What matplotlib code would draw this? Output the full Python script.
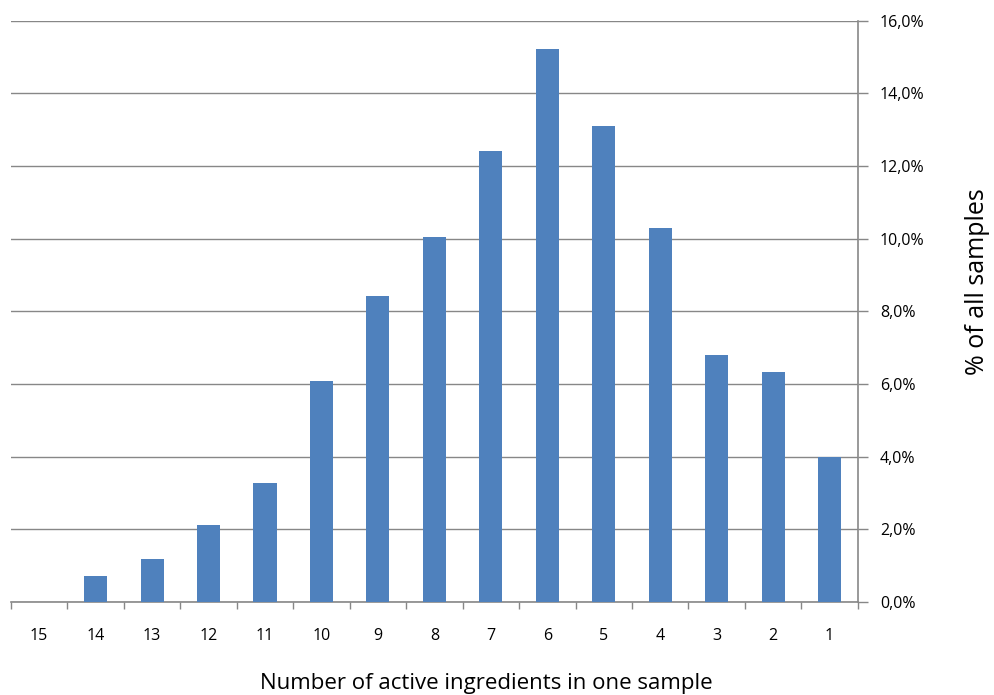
import numpy as np
import matplotlib.pyplot as plt
from matplotlib.ticker import FuncFormatter, MultipleLocator

# Share of samples by number of active ingredients
categories = ['15', '14', '13', '12', '11', '10', '9', '8', '7', '6', '5', '4', '3', '2', '1']
share = [0.0, 0.72, 1.18, 2.12, 3.28, 6.09, 8.43, 10.06, 12.42, 15.23, 13.11, 10.30, 6.80, 6.33, 3.99]

plt.rcParams['font.family'] = ['Open Sans', 'DejaVu Sans']

fig = plt.figure(figsize=(9.94, 6.95), dpi=100)
ax = fig.add_axes([0.011, 0.134, 0.852, 0.836])

x = np.arange(len(categories))
ax.bar(x, share, width=0.41, color='#4F81BD', zorder=3)

grey = '#878787'
ax.set_xlim(-0.5, len(categories) - 0.5)
ax.set_ylim(0, 16)
ax.yaxis.set_major_locator(MultipleLocator(2))
ax.yaxis.set_major_formatter(FuncFormatter(lambda v, p: f'{v:.1f}%'.replace('.', ',')))
ax.yaxis.tick_right()
ax.grid(axis='y', color=grey, linewidth=1, zorder=0)

ax.set_xticks(x)
ax.set_xticklabels(categories)
ax.set_xticks(np.arange(-0.5, len(categories)), minor=True)
ax.tick_params(axis='x', which='major', length=0, pad=19, labelsize=11.5)
ax.tick_params(axis='x', which='minor', length=5, color=grey, width=1)
ax.tick_params(axis='y', length=7, color=grey, width=1, pad=9, labelsize=11.5)

for s in ['top', 'left']:
    ax.spines[s].set_visible(False)
for s in ['bottom', 'right']:
    ax.spines[s].set_color(grey)
    ax.spines[s].set_linewidth(1.2)

fig.text(486 / 994, 1 - 684 / 695, 'Number of active ingredients in one sample',
         fontsize=16, ha='center', va='center')
fig.text(978 / 994, 1 - 282 / 695, '% of all samples',
         fontsize=18, rotation=90, ha='center', va='center')

fig.savefig('out.png', dpi=100)
